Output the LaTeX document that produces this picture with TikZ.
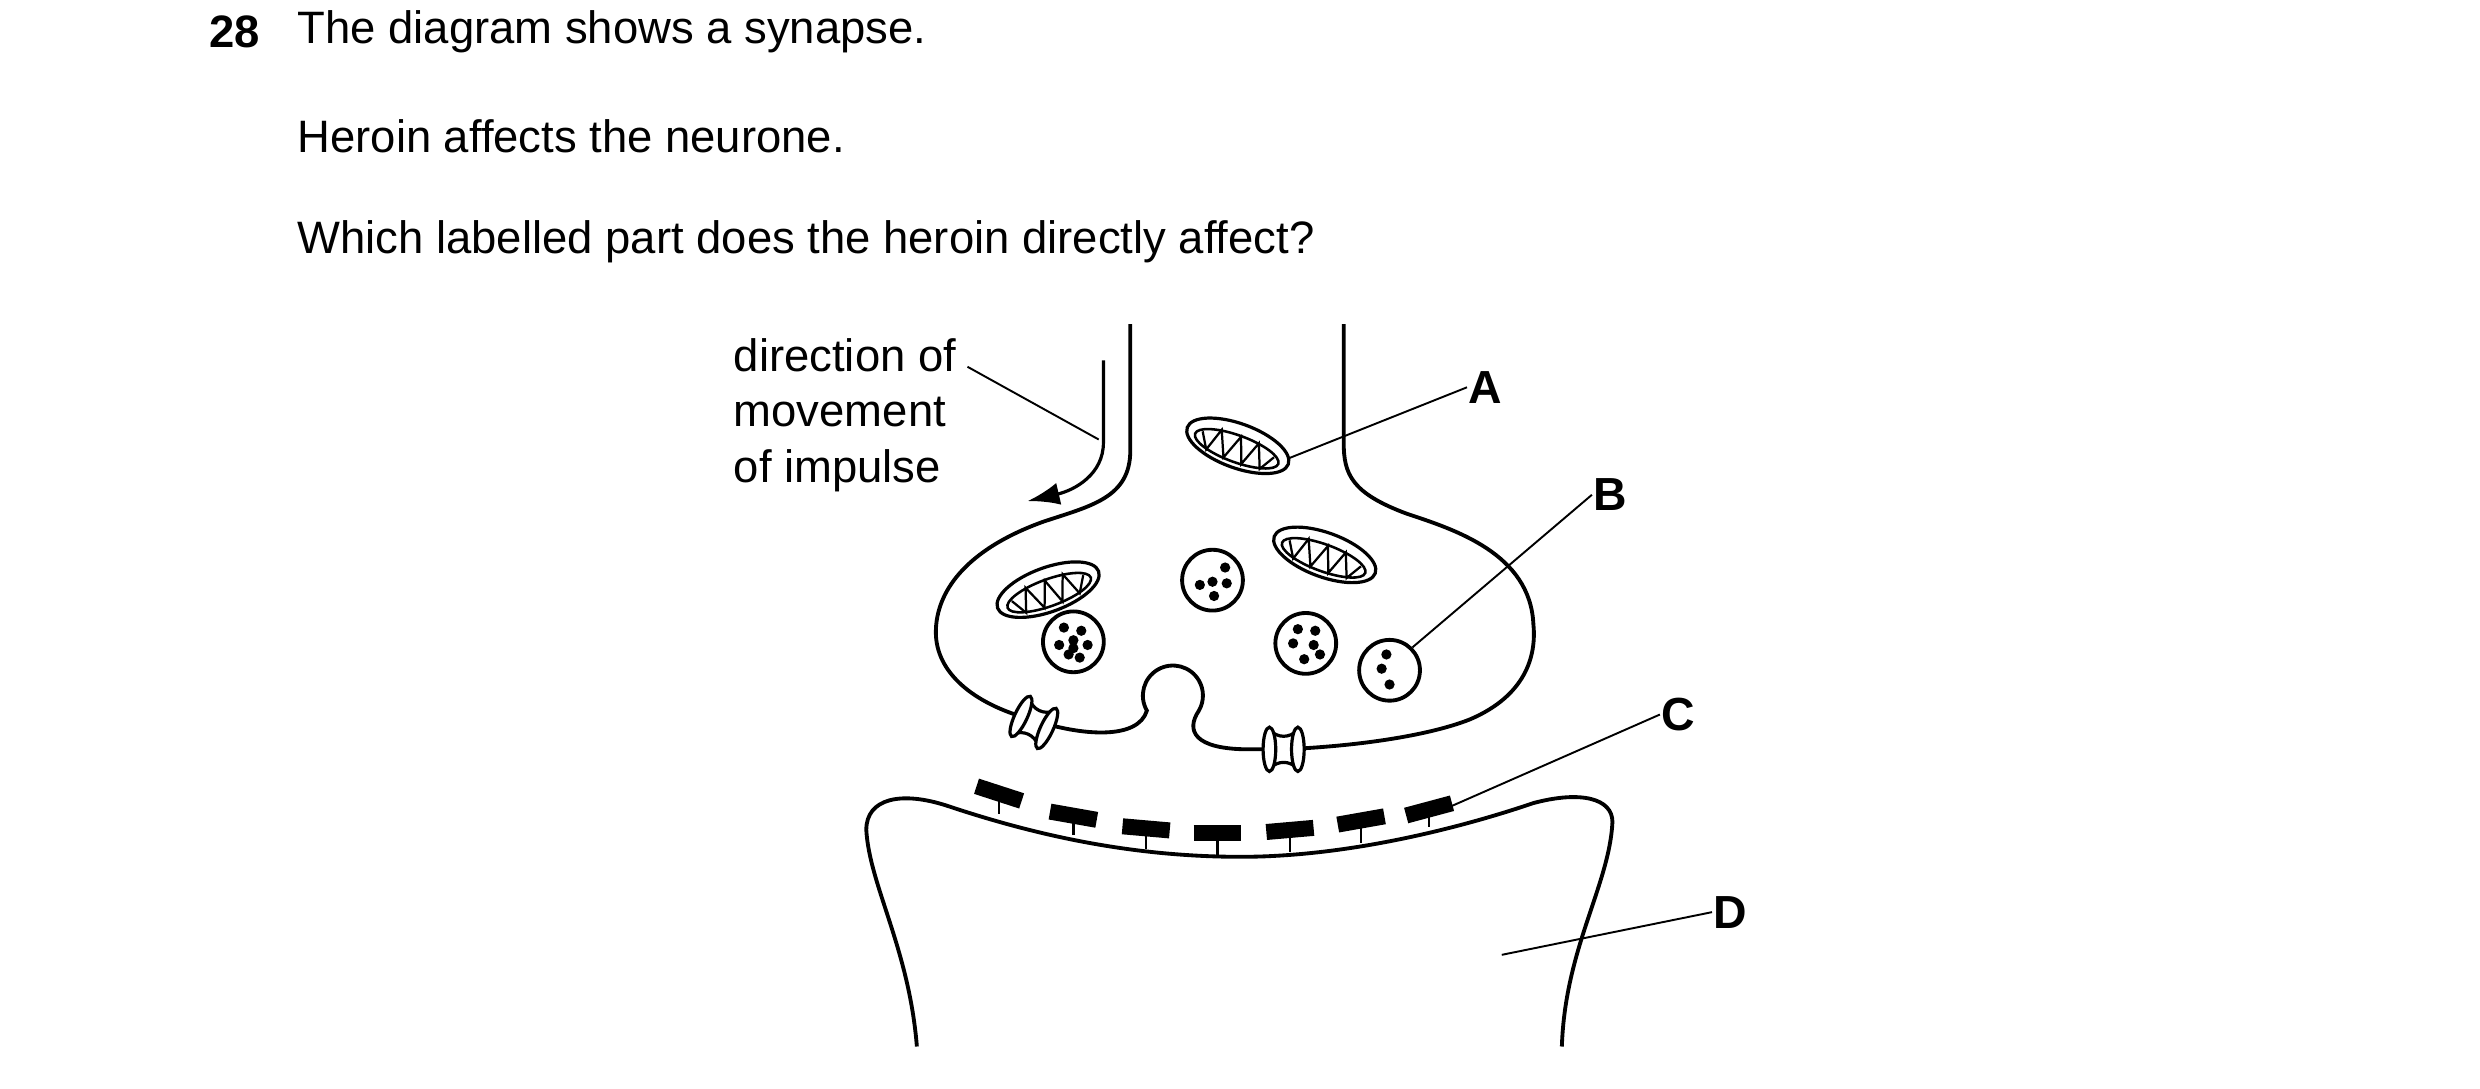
\documentclass[tikz,border=0pt]{standalone}
\usepackage{fontspec}
\setmainfont{Liberation Sans}
\usetikzlibrary{arrows.meta}
\begin{document}
\begin{tikzpicture}[x=0.494pt,y=-0.494pt,line width=1.2pt,
    txt/.style={anchor=west,inner sep=0pt,font=\fontsize{14.2}{16}\selectfont},
    lbl/.style={anchor=west,inner sep=0pt,font=\fontsize{14.5}{16}\selectfont\bfseries},
    ptr/.style={line width=0.6pt},
    vesicle/.style={circle,draw,line width=1.2pt,minimum size=19pt,inner sep=0pt},
    dot/.style={fill,circle,inner sep=0pt,minimum size=3.2pt}]
  \useasboundingbox (0pt,0pt) rectangle (775pt,-340pt);
  % question text
  \node[txt,font=\fontsize{14.2}{16}\selectfont\bfseries] (num) at (131,20) {28};
  \node[txt] (q1) at (187,20) {The diagram shows a synapse.};
  \node[txt] (q2) at (187,86) {Heroin affects the neurone.};
  \node[txt] (q3) at (187,153) {Which labelled part does the heroin directly affect?};

  % presynaptic knob
  \draw (715,205) -- (715,285) .. controls (715,315) and (690,320) .. (660,330)
    .. controls (610,348) and (592,375) .. (592,400)
    .. controls (592,425) and (615,445) .. (652,455)
    .. controls (685,466) and (720,468) .. (725.5,449.5)
    arc[start angle=150,end angle=390,radius=19]
    .. controls (750,462) and (755,474) .. (790,474) -- (812,474)
    .. controls (860,472) and (905,465) .. (930,455)
    .. controls (965,440) and (972,415) .. (970,395)
    .. controls (968,350) and (920,335) .. (890,325)
    .. controls (855,312) and (850,300) .. (850,280) -- (850,205);

  % impulse arrow
  \coordinate (arrS) at (698,228);
  \coordinate (arrE) at (650,317);
  \draw[line width=1pt,-{Latex[length=10pt,width=7pt]}] (arrS) -- (698,280)
    .. controls (698,300) and (680,310) .. (arrE);

  % mitochondria
  \foreach \n/\cx/\cy/\ang in {mA/783/282/-20, mL/663/373/20, mR/838/351/-20}{
    \begin{scope}[shift={(\cx,\cy)},rotate=\ang]
      \draw[line width=1pt] (0,0) ellipse[x radius=34,y radius=14];
      \draw[line width=0.8pt] (0,2) ellipse[x radius=28,y radius=8.5];
      \draw[line width=0.7pt] (-24,-1) -- (-18,9) -- (-13,-6) -- (-6,10) -- (0,-6) -- (6,10) -- (12,-6) -- (18,9) -- (24,-1);
      \coordinate (\n) at (0,0);
    \end{scope}}

  % vesicles
  \node[vesicle] (v1) at (767,367) {};
  \foreach \dx/\dy in {8/-8, 9/2, 1/10, -8/3, 0/1}
    \node[dot] at ([shift={(\dx,\dy)}]v1) {};
  \node[vesicle] (v2) at (679,406) {};
  \foreach \dx/\dy in {-6/-9, 5/-7, 0/-1, -9/2, 9/2, -3/8, 4/10, 0/4}
    \node[dot] at ([shift={(\dx,\dy)}]v2) {};
  \node[vesicle] (v3) at (826,407) {};
  \foreach \dx/\dy in {-5/-9, 6/-8, -8/0, 5/1, -1/10, 9/7}
    \node[dot] at ([shift={(\dx,\dy)}]v3) {};
  \node[vesicle] (v4) at (879,424) {};
  \foreach \dx/\dy in {-2/-10, -5/-1, 0/9}
    \node[dot] at ([shift={(\dx,\dy)}]v4) {};

  % channels
  \foreach \n/\cx/\cy/\ang in {chL/654/457/-25, chR/812/474/0}{
    \begin{scope}[shift={(\cx,\cy)},rotate=\ang]
      \draw[fill=white,line width=1pt] (-9,-12) .. controls (-3,-7) and (3,-7) .. (9,-12) -- (9,12)
        .. controls (3,7) and (-3,7) .. (-9,12) -- cycle;
      \draw[fill=white,line width=1pt] (-9,0) ellipse[x radius=4,y radius=14];
      \draw[fill=white,line width=1pt] (9,0) ellipse[x radius=4,y radius=14];
      \coordinate (\n) at (0,0);
    \end{scope}}

  % postsynaptic membrane
  \draw (580,662) .. controls (575,600) and (550,560) .. (548,525)
    .. controls (548,505) and (570,500) .. (600,510)
    .. controls (660,530) and (720,542) .. (785,542)
    .. controls (850,542) and (920,525) .. (970,508)
    .. controls (1000,500) and (1020,505) .. (1020,520)
    .. controls (1018,560) and (990,600) .. (988,662);

  % receptors
  \foreach \x/\y/\m/\ang in {632/502/515/18, 679/516/528/10, 725/524/537/5, 770/527/541/0, 816/525/539/-5, 861/519/533/-10, 904/512/523/-15}{
    \draw[line width=0.8pt] (\x,\y) -- (\x,\m);
    \draw[line width=5pt] ([shift={(\ang:-15)}]\x,\y) -- ([shift={(\ang:15)}]\x,\y);
  }

  % labels
  \node[txt,align=left,anchor=north west,font=\fontsize{14.2}{17.3}\selectfont] (dir) at (463,213) {direction of\\movement\\of impulse};
  \coordinate (dirE) at (612,232);
  \coordinate (dirT) at (695,278);
  \draw[ptr] (dirE) -- (dirT);
  \node[lbl] (A) at (928,245) {A};
  \coordinate (aT) at (815,290);
  \draw[ptr] (aT) -- (A.west);
  \node[lbl] (B) at (1007,313) {B};
  \draw[ptr] (v4.north east) -- (B.west);
  \node[lbl] (C) at (1050,452) {C};
  \coordinate (cT) at (918,510);
  \draw[ptr] (cT) -- (C.west);
  \node[lbl] (D) at (1083,577) {D};
  \coordinate (dT) at (950,604);
  \draw[ptr] (dT) -- (D.west);
\end{tikzpicture}
\end{document}
